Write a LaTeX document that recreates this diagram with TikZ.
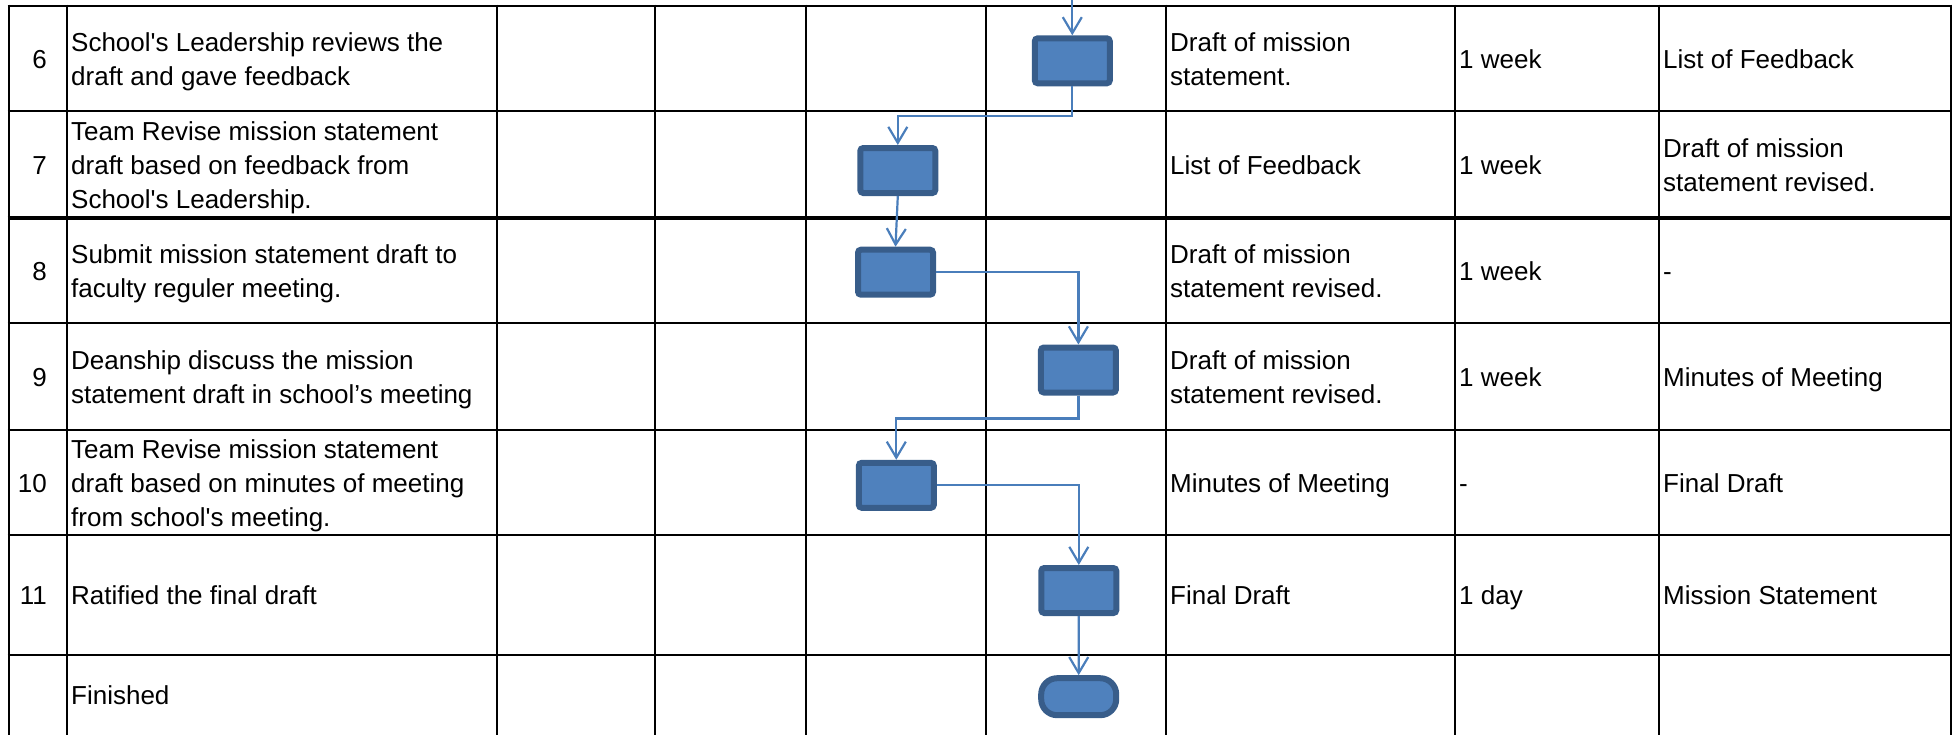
\documentclass[tikz,border=0pt]{standalone}
\usepackage{fontspec}
\setmainfont{Liberation Sans}
\usetikzlibrary{arrows.meta}
\definecolor{boxfill}{RGB}{79,129,189}
\definecolor{boxline}{RGB}{56,93,138}
\definecolor{connblue}{RGB}{74,126,187}
\newcommand{\cellfont}{\fontsize{26}{34}\selectfont}
\newcommand{\sq}{\textquotesingle}
\begin{document}
\begin{tikzpicture}[x=1pt,y=-1pt,
  gridline/.style={line width=2.6pt, black},
  gridthick/.style={line width=3.6pt, black},
  procbox/.style={draw=boxline, fill=boxfill, line width=6pt, rounded corners=3pt,
    minimum width=75pt, minimum height=45pt, inner sep=0pt},
  termbox/.style={draw=boxline, fill=boxfill, line width=6pt, rounded corners=16pt,
    minimum width=75pt, minimum height=37pt, inner sep=0pt},
  flow/.style={draw=connblue, line width=2.2pt, -{Straight Barb[length=16pt,width=19pt]}},
  cell/.style={anchor=west, inner sep=0pt, align=left, font=\cellfont},
  num/.style={anchor=east, inner sep=0pt, font=\cellfont},
]
\useasboundingbox (0,0) rectangle (1953,734);
% grid
\foreach \x in {9,67,497,655,806,986,1166,1455,1659,1951}
  \draw[gridline] (\x,4.7) -- (\x,740);
\foreach \y in {6,111,323,430,535,655}
  \draw[gridline] (7.7,\y) -- (1952.3,\y);
\draw[gridthick] (7.7,218) -- (1952.3,218);

% row 6
\node[num]  (n6) at (47,62) {\strut 6};
\node[cell] (d6) at (71,62) {\strut School\sq s Leadership reviews the\\\strut draft and gave feedback};
\node[cell] (i6) at (1170,62) {\strut Draft of mission\\\strut statement.};
\node[cell] (t6) at (1459,62) {\strut 1 week};
\node[cell] (o6) at (1663,62) {\strut List of Feedback};
% row 7
\node[num]  (n7) at (47,168) {\strut 7};
\node[cell] (d7) at (71,168) {\strut Team Revise mission statement\\\strut draft based on feedback from\\\strut School\sq s Leadership.};
\node[cell] (i7) at (1170,168) {\strut List of Feedback};
\node[cell] (t7) at (1459,168) {\strut 1 week};
\node[cell] (o7) at (1663,168) {\strut Draft of mission\\\strut statement revised.};
% row 8
\node[num]  (n8) at (47,274) {\strut 8};
\node[cell] (d8) at (71,274) {\strut Submit mission statement draft to\\\strut faculty reguler meeting.};
\node[cell] (i8) at (1170,274) {\strut Draft of mission\\\strut statement revised.};
\node[cell] (t8) at (1459,274) {\strut 1 week};
\node[cell] (o8) at (1663,274) {\strut -};
% row 9
\node[num]  (n9) at (47,380) {\strut 9};
\node[cell] (d9) at (71,380) {\strut Deanship discuss the mission\\\strut statement draft in school’s meeting};
\node[cell] (i9) at (1170,380) {\strut Draft of mission\\\strut statement revised.};
\node[cell] (t9) at (1459,380) {\strut 1 week};
\node[cell] (o9) at (1663,380) {\strut Minutes of Meeting};
% row 10
\node[num]  (n10) at (47,486) {\strut 10};
\node[cell] (d10) at (71,486) {\strut Team Revise mission statement\\\strut draft based on minutes of meeting\\\strut from school\sq s meeting.};
\node[cell] (i10) at (1170,486) {\strut Minutes of Meeting};
\node[cell] (t10) at (1459,486) {\strut -};
\node[cell] (o10) at (1663,486) {\strut Final Draft};
% row 11
\node[num]  (n11) at (47,598) {\strut 11};
\node[cell] (d11) at (71,598) {\strut Ratified the final draft};
\node[cell] (i11) at (1170,598) {\strut Final Draft};
\node[cell] (t11) at (1459,598) {\strut 1 day};
\node[cell] (o11) at (1663,598) {\strut Mission Statement};
% finished
\node[cell] (dfin) at (71,698) {\strut Finished};

% flow boxes
\node[procbox] (B6)  at (1072.3,60.8) {};
\node[procbox] (B7)  at (897.8,170.5) {};
\node[procbox] (B8)  at (895.5,272.2) {};
\node[procbox] (B9)  at (1078.4,370) {};
\node[procbox] (B10) at (896.3,485.3) {};
\node[procbox] (B11) at (1078.8,590.5) {};
\node[termbox] (FIN) at (1078.7,696.7) {};

% connectors
\coordinate (top) at (1072.3,0);
\coordinate (j67) at (0,116);
\coordinate (j910) at (0,418.5);
\draw[flow] (top) -- (B6.north);
\draw[flow] (B6.south) -- (B6.south |- j67) -| (B7.north);
\draw[flow] (B7.south) -- (B8.north);
\draw[flow] (B8.east) -| (B9.north);
\draw[flow] (B9.south) -- (B9.south |- j910) -| (B10.north);
\draw[flow] (B10.east) -| (B11.north);
\draw[flow] (B11.south) -- (FIN.north);
\end{tikzpicture}
\end{document}
